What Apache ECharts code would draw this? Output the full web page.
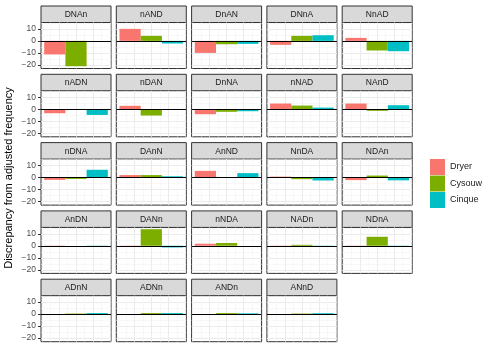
<!DOCTYPE html>
<html>
<head>
<meta charset="utf-8">
<script src="https://cdn.jsdelivr.net/npm/echarts@6/dist/echarts.min.js"></script>
<style>
html, body { margin: 0; padding: 0; background: #fff; }
#main { width: 490px; height: 350px; }
</style>
</head>
<body>
<div id="main"></div>
<script>
// facet names, in reading order
var panels = ['DNAn', 'nAND', 'DnAN', 'DNnA', 'NnAD',
              'nADN', 'nDAN', 'DnNA', 'nNAD', 'NAnD',
              'nDNA', 'DAnN', 'AnND', 'NnDA', 'NDAn',
              'AnDN', 'DANn', 'nNDA', 'NADn', 'NDnA',
              'ADnN', 'ADNn', 'ANDn', 'ANnD'];

// discrepancy per panel for each source
var dryer  = [-11.3, 10, -10, -3.3, 2.5, -3.4, 2.8, -4.2, 4.7, 4.7, -2, 2, 5.5, 0.7, -2.2, -0.7, -0.8, 1.7, -0.3, -0.3, 0, 0, 0, 0];
var cysouw = [-21.1, 4.2, -2.8, 4.2, -8, 0, -5.3, -2.2, 3, -1.4, -1.2, 2, 0, -1.4, 1.6, 0, 13.8, 2.3, 0.8, 7.5, 0.4, 0.8, 0.8, 0.4];
var cinque = [0, -2.2, -2.5, 4.7, -8.6, -4.8, 0, -1.7, 1.3, 3.3, 6.4, 1, 3.6, -2.5, -2.4, -0.8, -1.4, 0, -0.4, -0.4, 0.8, 0.8, 0.6, 0.7];

var sourceNames = ['Dryer', 'Cysouw', 'Cinque'];
var yTicks = [-20, -10, 0, 10];
var yMinor = [-15, -5, 5, 15];
var xMajor = [1.2, 2, 2.8];
var xMinor = [0.4, 0.8, 1.6, 2.4, 3.2, 3.6];

var colors = ['#F8766D', '#7CAE00', '#00BFC4'];
var values = [dryer, cysouw, cinque];

var chart = echarts.init(document.getElementById('main'));

// panel geometry
var colLeft = 41, colStep = 75.3, panelW = 70;
var rowTop = 6, rowStep = 68.3, stripH = 16.5, plotH = 46;
var barW = panelW / 3.3;

var grids = [], xAxes = [], yAxes = [], series = [], graphics = [];

// light grid lines, drawn under the bars
var gridLines = [];
yTicks.forEach(function (v) { gridLines.push({ yAxis: v, lineStyle: { color: '#ebebeb', width: 1, type: 'solid' } }); });
yMinor.forEach(function (v) { gridLines.push({ yAxis: v, lineStyle: { color: '#f3f3f3', width: 0.6, type: 'solid' } }); });
xMajor.forEach(function (v) { gridLines.push({ xAxis: v, lineStyle: { color: '#ebebeb', width: 1, type: 'solid' } }); });
xMinor.forEach(function (v) { gridLines.push({ xAxis: v, lineStyle: { color: '#f3f3f3', width: 0.6, type: 'solid' } }); });

panels.forEach(function (name, i) {
    var col = i % 5, row = Math.floor(i / 5);
    var left = colLeft + col * colStep;
    var top = rowTop + row * rowStep;

    grids.push({
        left: left, top: top + stripH, width: panelW, height: plotH,
        show: true, borderColor: '#333', borderWidth: 1, backgroundColor: '#fff'
    });
    xAxes.push({ type: 'value', gridIndex: i, min: 0.35, max: 3.65, show: false });
    yAxes.push({
        type: 'value', gridIndex: i, min: -23, max: 15.3,
        splitLine: { show: false },
        axisLine: { show: false },
        axisTick: { show: col == 0, length: 3, customValues: yTicks, lineStyle: { color: '#333' } },
        axisLabel: {
            show: col == 0, customValues: yTicks, fontSize: 8.5, color: '#4d4d4d', margin: 5,
            fontFamily: 'Liberation Sans',
            formatter: function (v) { return String(v).replace('-', '\u2212'); }
        }
    });

    sourceNames.forEach(function (s, k) {
        var ser = {
            name: s, type: 'bar', xAxisIndex: i, yAxisIndex: i,
            data: [[k + 1, values[k][i]]],
            barWidth: barW, barGap: '-100%',
            itemStyle: { color: colors[k] },
            z: 2, silent: true, animation: false
        };
        if (k == 0) {
            ser.markLine = {
                silent: true, symbol: ['none', 'none'], z: 1, animation: false,
                lineStyle: { type: 'solid' },
                label: { show: false }, emphasis: { disabled: true },
                data: gridLines
            };
        }
        if (k == 2) {
            ser.markLine = {
                silent: true, symbol: ['none', 'none'], z: 5, animation: false,
                lineStyle: { type: 'solid' },
                label: { show: false }, emphasis: { disabled: true },
                data: [{ yAxis: 0, lineStyle: { color: '#000', width: 1, type: 'solid' } }]
            };
        }
        series.push(ser);
    });

    // strip
    graphics.push({
        type: 'rect', shape: { x: left, y: top, width: panelW, height: stripH },
        style: { fill: '#d9d9d9', stroke: '#333', lineWidth: 1 }
    });
    graphics.push({
        type: 'text', x: left + panelW / 2, y: top + stripH / 2 + 0.5,
        style: { text: name, fill: '#1a1a1a', font: '8.5px "Liberation Sans", Arial, sans-serif',
                 align: 'center', verticalAlign: 'middle' }
    });
});

// y axis title
graphics.push({
    type: 'text', x: 9, y: 178, rotation: Math.PI / 2,
    style: { text: 'Discrepancy from adjusted frequency', fill: '#000',
             font: '11px "Liberation Sans", Arial, sans-serif',
             align: 'center', verticalAlign: 'middle' }
});

var option = {
    animation: false,
    grid: grids,
    xAxis: xAxes,
    yAxis: yAxes,
    series: series,
    graphic: graphics,
    legend: {
        orient: 'vertical', left: 425, top: 154,
        itemWidth: 15, itemHeight: 16, itemGap: 0.5,
        icon: 'rect', selectedMode: false,
        data: sourceNames,
        textStyle: { fontSize: 9, color: '#1a1a1a', fontFamily: 'Liberation Sans' }
    }
};
chart.setOption(option);
</script>
</body>
</html>
